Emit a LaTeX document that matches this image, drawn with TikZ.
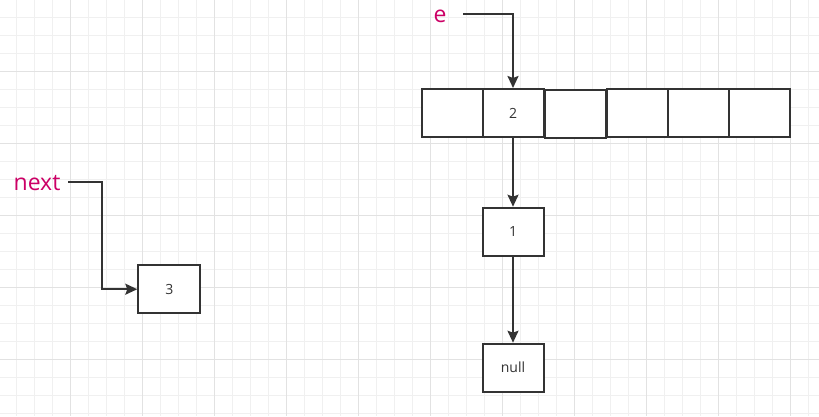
\documentclass[tikz,border=0pt]{standalone}
\usepackage{fontspec}
\setmainfont{Open Sans}
\usetikzlibrary{arrows.meta}
\definecolor{gridminor}{HTML}{F0F0F0}
\definecolor{gridmajor}{HTML}{E2E2E2}
\definecolor{ln}{HTML}{333333}
\definecolor{lbl}{HTML}{CC0066}
\begin{document}
\begin{tikzpicture}[x=1pt,y=-1pt,
  cell/.style={draw=ln, line width=2pt, minimum width=61pt, minimum height=48pt, inner sep=0pt,
    font=\fontsize{14}{14}\selectfont, text=ln, fill=white},
  ptr/.style={draw=ln, line width=2pt, -{Stealth[length=12pt,width=11pt,inset=2pt]}},
  lab/.style={text=lbl, font=\fontsize{23}{23}\selectfont, inner sep=0pt}]
\fill[white] (0,0) rectangle (819,416);
\useasboundingbox (0,0) rectangle (819,416);
% grid
\foreach \i in {0,...,46}{
  \pgfmathsetmacro\xx{-1.7+18*\i}
  \draw[gridminor, line width=1pt] (\xx,0) -- (\xx,416);
}
\foreach \i in {0,...,24}{
  \pgfmathsetmacro\yy{-0.7+18*\i}
  \draw[gridminor, line width=1pt] (0,\yy) -- (819,\yy);
}
\foreach \i in {0,...,12}{
  \pgfmathsetmacro\xx{-1.7+72*\i}
  \draw[gridmajor, line width=1pt] (\xx,0) -- (\xx,416);
}
\foreach \i in {0,...,6}{
  \pgfmathsetmacro\yy{-0.7+72*\i}
  \draw[gridmajor, line width=1pt] (0,\yy) -- (819,\yy);
}
% array cells
\node[cell] (b1) at (452,113) {};
\node[cell] (b2) at (513,113) {2};
\node[cell] (b3) at (575,113.5) {};
\node[cell] (b4) at (637,112.7) {};
\node[cell] (b5) at (698.5,112.7) {};
\node[cell] (b6) at (759.5,112.7) {};
% list nodes
\node[cell] (n1) at (513,231.7) {1};
\node[cell] (nl) at (513,367.7) {null};
\node[cell, minimum width=62pt] (n3) at (169.3,289.2) {3};
% labels
\node[lab] (e) at (440,16) {e};
\node[lab] (next) at (37,183) {next};
\coordinate (es) at (463,14);
\coordinate (ns) at (68,182);
\coordinate (nk) at (102,182);
% connectors
\draw[ptr] (es) -| (b2.north);
\draw[ptr] (b2.south) -- (n1.north);
\draw[ptr] (n1.south) -- (nl.north);
\draw[ptr] (ns) -- (nk) |- (n3.west);
\end{tikzpicture}
\end{document}
